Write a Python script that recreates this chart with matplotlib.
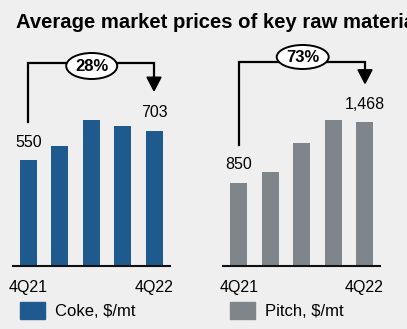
import numpy as np
import matplotlib
matplotlib.use('Agg')
import matplotlib.pyplot as plt
from matplotlib.patches import Ellipse, Polygon

plt.rcParams['font.family'] = ['Liberation Sans', 'DejaVu Sans']

title = 'Average market prices of key raw materials'
quarters = ['4Q21', '1Q22', '2Q22', '3Q22', '4Q22']
coke = [550, 624, 756, 725, 703]
pitch = [850, 959, 1253, 1489, 1468]
coke_label = 'Coke, $/mt'
pitch_label = 'Pitch, $/mt'
coke_change = '28%'
pitch_change = '73%'

W, H = 407, 329
bg = '#efefef'
blue = '#1f5a8f'
grey = '#7e868c'

fig = plt.figure(figsize=(W / 100, H / 100), dpi=100, facecolor=bg)


def px_axes(x0, y0, x1, y1):
    # pixel box (top-left origin) -> axes
    return fig.add_axes([x0 / W, 1 - y1 / H, (x1 - x0) / W, (y1 - y0) / H])


def bar_panel(ax, vals, color, ymax):
    x = np.arange(len(vals))
    ax.bar(x, vals, width=0.54, color=color)
    ax.set_xlim(-0.5, len(vals) - 0.5)
    ax.set_ylim(0, ymax)
    ax.set_facecolor('none')
    for s in ['top', 'right', 'left']:
        ax.spines[s].set_visible(False)
    ax.spines['bottom'].set_linewidth(1.5)
    ax.spines['bottom'].set_color('#111111')
    ax.set_yticks([])
    ax.set_xticks([0, len(vals) - 1])
    ax.set_xticklabels([quarters[0], quarters[-1]], fontsize=11.5)
    ax.tick_params(axis='x', length=0, pad=10)
    for i in [0, len(vals) - 1]:
        ax.annotate(f'{vals[i]:,}', (x[i], vals[i]), xytext=(0, 7.5),
                    textcoords='offset points', ha='center', va='bottom',
                    fontsize=11.5)


ax1 = px_axes(12.8, 100, 169.8, 265.7)
bar_panel(ax1, coke, blue, 862)
ax2 = px_axes(223, 100, 380.2, 265.7)
bar_panel(ax2, pitch, grey, 1697)

# overlay in pixel coords for title, brackets and legend
ov = fig.add_axes([0, 0, 1, 1])
ov.set_xlim(0, W)
ov.set_ylim(H, 0)
ov.axis('off')
ov.patch.set_alpha(0)

# title runs off the right edge, as in the source slide crop
ov.text(16, 22.5, title, fontsize=14.6, fontweight='bold', va='center', ha='left')


def bracket(x0, y0, x1, ytop, tip, head, ecx, ecy, ew, eh, txt):
    ov.plot([x0, x0, x1, x1], [y0, ytop, ytop, tip - head + 1], color='black', lw=1.6,
            solid_joinstyle='miter', zorder=2)
    ov.add_patch(Polygon([[x1 - 7, tip - head], [x1 + 7, tip - head], [x1, tip]],
                         closed=True, color='black', zorder=2))
    ov.add_patch(Ellipse((ecx, ecy), ew, eh, facecolor='white', edgecolor='black',
                         lw=1.4, zorder=3))
    ov.text(ecx, ecy + 0.5, txt, fontsize=12, fontweight='bold', ha='center',
            va='center', zorder=4)


bracket(28, 121.7, 154, 62.7, 90.7, 13.5, 91.7, 66, 51, 26, coke_change)
bracket(239, 145, 365, 61.7, 83.3, 13.5, 302.7, 57, 52, 24, pitch_change)

# legends
ov.add_patch(plt.Rectangle((20, 301.5), 25, 17, color=blue))
ov.text(55, 311, coke_label, fontsize=12, va='center', ha='left')
ov.add_patch(plt.Rectangle((230, 301.5), 25, 17, color=grey))
ov.text(265, 311, pitch_label, fontsize=12, va='center', ha='left')

fig.savefig('out.png', dpi=100, facecolor=bg)
